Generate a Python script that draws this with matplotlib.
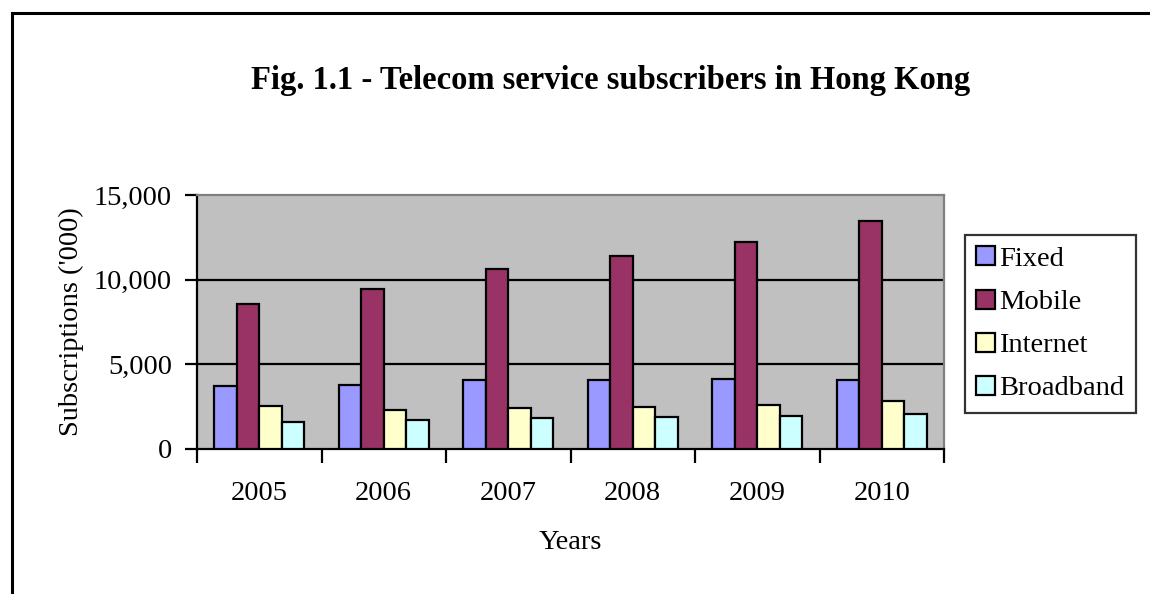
import numpy as np
import matplotlib
matplotlib.use("Agg")
import matplotlib.pyplot as plt
from matplotlib.lines import Line2D

years = ["2005", "2006", "2007", "2008", "2009", "2010"]
series = ["Fixed", "Mobile", "Internet", "Broadband"]
fixed = [3730, 3790, 4065, 4065, 4140, 4050]
mobile = [8540, 9450, 10615, 11385, 12230, 13455]
internet = [2545, 2290, 2425, 2485, 2625, 2820]
broadband = [1600, 1700, 1815, 1875, 1975, 2070]
colors = ["#9999FF", "#993366", "#FFFFCC", "#CCFFFF"]

plt.rcParams['font.family'] = ['Liberation Serif', 'DejaVu Serif']

W, H = 1150, 594
fig = plt.figure(figsize=(W / 100, H / 100), dpi=100)
# plot area in pixels: left 197, right 944, top 195, bottom 449
ax = fig.add_axes([197 / W, 1 - 449 / H, (944 - 197) / W, (449 - 195) / H])
ax.set_facecolor("#C0C0C0")

x = np.arange(len(years))
bw = 0.18
data = [fixed, mobile, internet, broadband]
for i, (name, vals) in enumerate(zip(series, data)):
    ax.bar(x + (i - 1.5) * bw, vals, bw, color=colors[i], edgecolor="black",
           linewidth=1.6, label=name, zorder=3)

ax.set_xlim(-0.5, len(years) - 0.5)
ax.set_ylim(0, 15000)
ax.set_yticks([0, 5000, 10000, 15000])
ax.set_yticklabels(["0", "5,000", "10,000", "15,000"], fontsize=20.5)
for v in [5000, 10000]:
    ax.axhline(v, color="black", linewidth=1.6, zorder=1)

ax.set_xticks(x)
ax.set_xticklabels(years, fontsize=20.5)
ax.set_xticks(np.arange(-0.5, len(years)), minor=True)
ax.tick_params(axis="x", which="major", length=0, pad=23)
ax.tick_params(axis="x", which="minor", length=10, width=1.6, direction="out")
ax.tick_params(axis="y", length=9, width=1.6, direction="out", pad=9)

ax.spines["left"].set_linewidth(1.6)
ax.spines["bottom"].set_linewidth(1.6)
ax.spines["top"].set_color("#808080")
ax.spines["right"].set_color("#808080")
ax.spines["top"].set_linewidth(1.6)
ax.spines["right"].set_linewidth(1.6)

ax.set_ylabel("Subscriptions ('000)", fontsize=20.5, labelpad=7)
ax.set_xlabel("Years", fontsize=20.5, labelpad=17)

fig.text(611 / W, 1 - 80 / H, "Fig. 1.1 - Telecom service subscribers in Hong Kong",
         ha="center", va="center", fontsize=23.5, fontweight="bold")

leg = ax.legend(loc="upper left", bbox_to_anchor=(965 / W, 1 - 235 / H),
                bbox_transform=fig.transFigure, fontsize=20.5, frameon=True,
                fancybox=False, edgecolor="black", handlelength=0.65,
                handleheight=0.65, handletextpad=0.15, labelspacing=0.62,
                borderpad=0.4, borderaxespad=0)
leg.get_frame().set_linewidth(1.6)

# outer frame lines (top and left only)
fig.add_artist(Line2D([12 / W, 1], [1 - 13 / H, 1 - 13 / H], color="black",
                      linewidth=2.2, transform=fig.transFigure))
fig.add_artist(Line2D([12 / W, 12 / W], [0, 1 - 13 / H], color="black",
                      linewidth=2.2, transform=fig.transFigure))

fig.savefig("out.png", dpi=100, facecolor="white")
